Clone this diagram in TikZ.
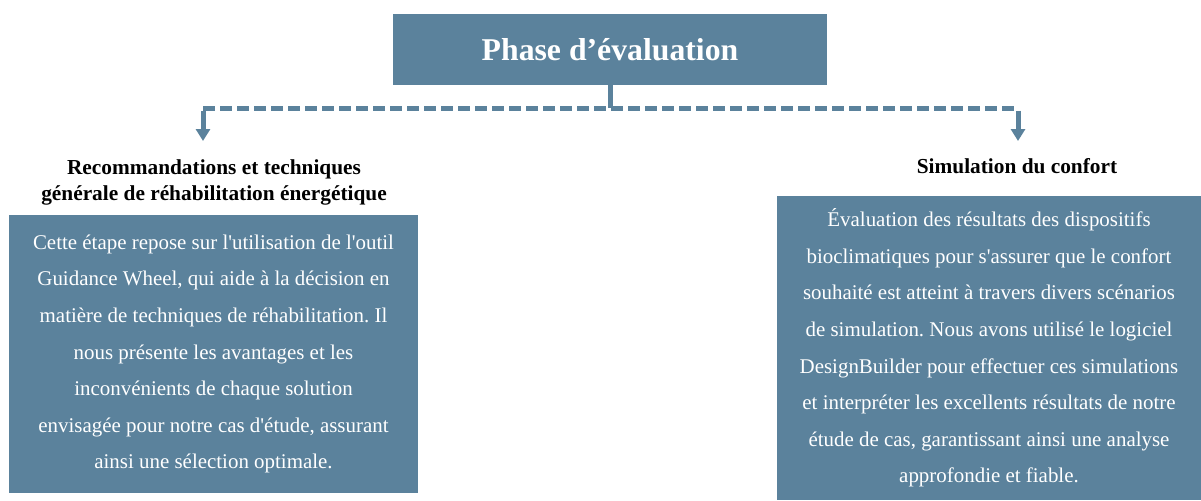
\documentclass[tikz,border=0pt]{standalone}
\usepackage{fontspec}
\setmainfont{Liberation Serif}
\usepackage{xcolor}
\usepackage{tikz}
\usetikzlibrary{arrows.meta}
\definecolor{steel}{RGB}{91,130,156}
\frenchspacing

\tikzset{
  phasebox/.style={fill=steel, text=white, inner sep=0pt, align=center},
  textbox/.style={fill=steel, text=white, inner sep=0pt, align=center,
    font=\fontsize{15.7}{27.4}\selectfont},
  headtext/.style={text=black, inner sep=0pt, align=center,
    font=\fontsize{16}{19.5}\selectfont\bfseries},
  link/.style={draw=steel, line width=3.75pt},
  dashlink/.style={link, dash pattern=on 9pt off 3.75pt},
  tiplink/.style={link, -{Triangle[length=9pt,width=10.5pt]}}
}

\begin{document}
\begin{tikzpicture}[x=0.75pt,y=0.75pt,yscale=-1,xscale=1]
\useasboundingbox (0,0) rectangle (1201,500);

% Title
\node (phase) [phasebox, minimum width=434*0.75pt, minimum height=71*0.75pt]
  at (610,49.5) {\fontsize{23.8}{28}\selectfont\bfseries Phase d’évaluation};

% Headings
\node (recHead) [headtext] at (214,182.5)
  {Recommandations et techniques\\générale de réhabilitation énergétique};
\node (simHead) [headtext] at (1017,166) {Simulation du confort};

% Boxes
\node (recBox) [textbox, minimum width=409*0.75pt, minimum height=278*0.75pt]
  at (213.5,354)
  {Cette étape repose sur l\textquotesingle utilisation de l\textquotesingle outil\\
   Guidance Wheel, qui aide à la décision en\\
   matière de techniques de réhabilitation. Il\\
   nous présente les avantages et les\\
   inconvénients de chaque solution\\
   envisagée pour notre cas d\textquotesingle étude, assurant\\
   ainsi une sélection optimale.};
\node (simBox) [textbox, minimum width=424*0.75pt, minimum height=304*0.75pt]
  at (989,348)
  {Évaluation des résultats des dispositifs\\
   bioclimatiques pour s\textquotesingle assurer que le confort\\
   souhaité est atteint à travers divers scénarios\\
   de simulation. Nous avons utilisé le logiciel\\
   DesignBuilder pour effectuer ces simulations\\
   et interpréter les excellents résultats de notre\\
   étude de cas, garantissant ainsi une analyse\\
   approfondie et fiable.};

% Connectors
\coordinate (mid) at (phase.south |- 0,108);
\coordinate (jl) at (203,108);
\coordinate (jr) at (1018,108);
\coordinate (tl) at (203,141);
\coordinate (tr) at (1018,141);
\draw [link] (phase.south) -- (mid);
\draw [dashlink] (jl) -- (jr);
\draw [tiplink] ([yshift=1.875pt]jl) -- (tl);
\draw [tiplink] ([yshift=1.875pt]jr) -- (tr);

\end{tikzpicture}
\end{document}
